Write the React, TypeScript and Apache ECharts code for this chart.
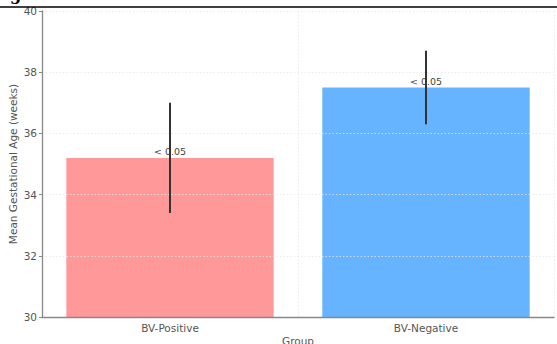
import React, { useEffect, useRef } from "react";
import * as echarts from "echarts";

const categories = ["BV-Positive", "BV-Negative"];
const means = [35.2, 37.5];
const errors = [1.8, 1.2];
const pLabels = ["< 0.05", "< 0.05"];
const barColors = ["#ff9999", "#66b3ff"];
const yTicks = { min: 30, max: 40, interval: 2 };

export default function App() {
  const ref = useRef<HTMLDivElement>(null);
  useEffect(() => {
    const chart = echarts.init(ref.current!, null, { renderer: "svg" });
    const font = "DejaVu Sans";
    chart.setOption({
      animation: false,
      textStyle: { fontFamily: font },
      grid: { left: 42, right: 3, top: 11, bottom: 27, containLabel: false, outerBoundsMode: "none" },
      graphic: [
        { type: "line", shape: { x1: 0, y1: 7, x2: 557, y2: 7 }, style: { stroke: "#000", lineWidth: 1.5 }, z: 100 },
        { type: "text", x: 10, y: -14, style: { text: "g", font: "bold 16px 'DejaVu Serif'", fill: "#000" }, z: 100 },
      ],
      xAxis: {
        type: "category",
        data: categories,
        z: 5,
        name: "Group",
        nameLocation: "middle",
        nameGap: 18,
        nameMoveOverlap: false,
        nameTextStyle: { fontSize: 10.5, color: "#555" },
        axisLine: { lineStyle: { color: "#888", width: 1.3 } },
        axisTick: { alignWithLabel: true, length: 3, lineStyle: { color: "#888" } },
        axisLabel: { fontSize: 10.5, color: "#555", margin: 5 },
        splitLine: { show: true, lineStyle: { color: "#e6e6e6", type: [1.5, 2], width: 0.8 } },
      },
      yAxis: {
        type: "value",
        min: yTicks.min,
        max: yTicks.max,
        interval: yTicks.interval,
        z: 5,
        name: "Mean Gestational Age (weeks)",
        nameLocation: "middle",
        nameGap: 24,
        nameMoveOverlap: false,
        nameTextStyle: { fontSize: 10.5, color: "#555" },
        axisLine: { show: true, lineStyle: { color: "#888", width: 1.3 } },
        axisTick: { show: true, length: 3, lineStyle: { color: "#888" } },
        axisLabel: { fontSize: 10.5, color: "#555", margin: 5 },
        splitLine: { show: true, lineStyle: { color: "#e6e6e6", type: [1.5, 2], width: 0.8 } },
      },
      series: [
        {
          type: "bar",
          barWidth: "81%",
          z: 2,
          data: means.map((v, i) => ({ value: v, itemStyle: { color: barColors[i] } })),
          label: {
            show: true,
            position: "top",
            distance: 1,
            fontSize: 9.5,
            color: "#444",
            formatter: (p: any) => pLabels[p.dataIndex],
          },
        },
        {
          type: "custom",
          z: 10,
          data: means.map((v, i) => [i, v - errors[i], v + errors[i]]),
          renderItem: (params: any, api: any) => {
            const lo = api.coord([api.value(0), api.value(1)]);
            const hi = api.coord([api.value(0), api.value(2)]);
            return {
              type: "line",
              shape: { x1: lo[0], y1: lo[1], x2: hi[0], y2: hi[1] },
              style: { stroke: "#333", lineWidth: 2 },
            };
          },
        },
      ],
    });
    return () => chart.dispose();
  }, []);
  return (
    <div
      ref={ref}
      style={{ position: "fixed", left: 0, top: 0, width: 557, height: 344, background: "#fff" }}
    />
  );
}
